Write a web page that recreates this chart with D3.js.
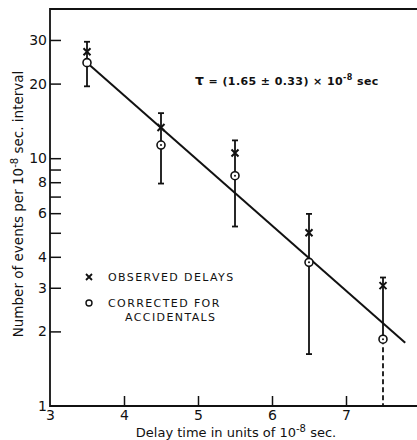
<!DOCTYPE html>
<html>
<head>
<meta charset="utf-8">
<script src="https://cdn.jsdelivr.net/npm/d3@7"></script>
<style>
  body { margin: 0; background: #fff; }
  text { font-family: "DejaVu Sans", sans-serif; fill: #111; }
</style>
</head>
<body>
<script>
// Data
const delays = [3.5, 4.5, 5.5, 6.5, 7.5];
const observed = [26.9, 13.3, 10.5, 5.0, 3.06];
const corrected = [24.3, 11.3, 8.5, 3.8, 1.86];
const errHigh = [29.5, 15.2, 11.8, 5.96, 3.3];
const errLow = [19.5, 7.9, 5.3, 1.62, 1.0];
const openBelow = [false, false, false, false, true]; // dashed lower part
const fitLine = [[3.5, 24.3], [7.8, 1.8]];

const xTicks = [3, 4, 5, 6, 7];
const yTicks = [30, 20, 10, 9, 8, 7, 6, 5, 4, 3, 2, 1];
const yLabelled = [30, 20, 10, 8, 6, 4, 3, 2, 1];

const w = 417;
const h = 440;

const x = d3.scaleLinear().domain([3, 8]).range([50, 420]);
const y = d3.scaleLog().domain([1, 40]).range([406, 9]);

const svg = d3.select("body")
  .append("svg")
  .attr("width", w)
  .attr("height", h);

// Frame: left, top and bottom lines
svg.append("path")
  .attr("d", `M${w},${y(40)}H${x(3)}V${y(1)}H${w}`)
  .attr("fill", "none")
  .attr("stroke", "#111")
  .attr("stroke-width", 1.8);

// Axes
const yAxis = d3.axisLeft(y)
  .tickValues(yTicks)
  .tickSize(-11)
  .tickPadding(3)
  .tickFormat(d => yLabelled.includes(d) ? d : "");

svg.append("g")
  .attr("transform", `translate(${x(3)},0)`)
  .call(yAxis)
  .call(g => g.select(".domain").remove())
  .call(g => g.selectAll("line").attr("stroke", "#111").attr("stroke-width", 1.5))
  .call(g => g.selectAll("text").style("font-size", "14px").attr("fill", "#111"));

svg.selectAll(".tick").filter(d => d === 1).select("line").remove();

const xAxis = d3.axisBottom(x)
  .tickValues(xTicks)
  .tickSize(-10)
  .tickPadding(4)
  .tickFormat(d3.format("d"));

svg.append("g")
  .attr("transform", `translate(0,${y(1)})`)
  .call(xAxis)
  .call(g => g.select(".domain").remove())
  .call(g => g.selectAll("line").attr("stroke", "#111").attr("stroke-width", 1.5))
  .call(g => g.selectAll(".tick").filter(d => d === 3).select("line").remove())
  .call(g => g.selectAll("text").style("font-size", "14px").attr("fill", "#111"));

// Axis titles
const xTitle = svg.append("text")
  .attr("x", 236)
  .attr("y", 437)
  .attr("text-anchor", "middle")
  .style("font-size", "13px");
xTitle.append("tspan").text("Delay time in units of 10");
xTitle.append("tspan").attr("dy", -5).style("font-size", "10px").text("-8");
xTitle.append("tspan").attr("dy", 5).text(" sec.");

const yTitle = svg.append("text")
  .attr("transform", "translate(23,204) rotate(-90)")
  .attr("text-anchor", "middle")
  .style("font-size", "13.5px");
yTitle.append("tspan").text("Number of events per 10");
yTitle.append("tspan").attr("dy", -5).style("font-size", "10px").text("-8");
yTitle.append("tspan").attr("dy", 5).text(" sec. interval");

// Fitted line
svg.append("path")
  .datum(fitLine)
  .attr("d", d3.line().x(d => x(d[0])).y(d => y(d[1])))
  .attr("fill", "none")
  .attr("stroke", "#111")
  .attr("stroke-width", 2);

// Error bars
const points = delays.map((t, i) => ({
  t, obs: observed[i], cor: corrected[i], hi: errHigh[i], lo: errLow[i], open: openBelow[i]
}));

const bars = svg.append("g").attr("stroke", "#111").attr("stroke-width", 1.8);

bars.selectAll(".solid")
  .data(points)
  .enter()
  .append("line")
  .attr("x1", d => x(d.t))
  .attr("x2", d => x(d.t))
  .attr("y1", d => y(d.hi))
  .attr("y2", d => d.open ? y(d.cor) : y(d.lo));

bars.selectAll(".dashed")
  .data(points.filter(d => d.open))
  .enter()
  .append("line")
  .attr("x1", d => x(d.t))
  .attr("x2", d => x(d.t))
  .attr("y1", d => y(d.cor))
  .attr("y2", d => y(d.lo))
  .attr("stroke-dasharray", "5,3");

bars.selectAll(".capHi")
  .data(points)
  .enter()
  .append("line")
  .attr("x1", d => x(d.t) - 3)
  .attr("x2", d => x(d.t) + 3)
  .attr("y1", d => y(d.hi))
  .attr("y2", d => y(d.hi));

bars.selectAll(".capLo")
  .data(points.filter(d => !d.open))
  .enter()
  .append("line")
  .attr("x1", d => x(d.t) - 3)
  .attr("x2", d => x(d.t) + 3)
  .attr("y1", d => y(d.lo))
  .attr("y2", d => y(d.lo));

// Observed: X marks
const xMark = (cx, cy, s) => `M${cx - s},${cy - s}L${cx + s},${cy + s}M${cx + s},${cy - s}L${cx - s},${cy + s}`;

svg.selectAll(".obs")
  .data(points)
  .enter()
  .append("path")
  .attr("d", d => xMark(x(d.t), y(d.obs), 3.5))
  .attr("stroke", "#111")
  .attr("stroke-width", 2);

// Corrected: open circles
svg.selectAll(".cor")
  .data(points)
  .enter()
  .append("circle")
  .attr("cx", d => x(d.t))
  .attr("cy", d => y(d.cor))
  .attr("r", 4)
  .attr("fill", "#fff")
  .attr("stroke", "#111")
  .attr("stroke-width", 1.6);

svg.selectAll(".corDot")
  .data(points.slice(1))
  .enter()
  .append("circle")
  .attr("cx", d => x(d.t))
  .attr("cy", d => y(d.cor))
  .attr("r", 1)
  .attr("fill", "#111");

// Annotation
const tau = svg.append("text")
  .attr("x", 195)
  .attr("y", 85)
  .style("font-size", "11px")
  .style("font-weight", "bold")
  .style("letter-spacing", "0.4px");
tau.append("tspan").style("font-size", "14px").text("τ");
tau.append("tspan").text(" = (1.65 ± 0.33) × 10");
tau.append("tspan").attr("dy", -5).style("font-size", "8px").text("-8");
tau.append("tspan").attr("dy", 5).text(" sec");

// Legend
svg.append("path")
  .attr("d", xMark(89, 277, 3))
  .attr("stroke", "#111")
  .attr("stroke-width", 1.8);
svg.append("circle")
  .attr("cx", 89).attr("cy", 303).attr("r", 3)
  .attr("fill", "none").attr("stroke", "#111").attr("stroke-width", 1.4);

const legendText = [
  ["OBSERVED DELAYS", 108, 281],
  ["CORRECTED FOR", 108, 307],
  ["ACCIDENTALS", 125, 321]
];
svg.selectAll(".legendText")
  .data(legendText)
  .enter()
  .append("text")
  .attr("x", d => d[1])
  .attr("y", d => d[2])
  .style("font-size", "11px")
  .style("letter-spacing", "1.4px")
  .text(d => d[0]);
</script>
</body>
</html>
